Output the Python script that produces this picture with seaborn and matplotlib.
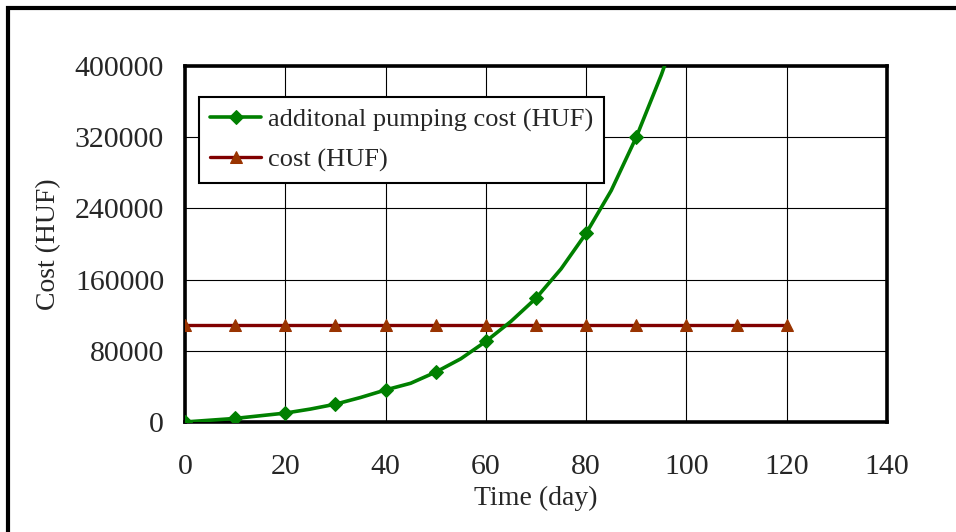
import matplotlib
matplotlib.use("Agg")
import matplotlib.pyplot as plt
from matplotlib.patches import Rectangle
import seaborn as sns
import pandas as pd

# Additional pumping cost over time (read every 5 days, marked every 10)
pump_days = [0, 5, 10, 15, 20, 25, 30, 35, 40, 45, 50, 55, 60, 65, 70,
             75, 80, 85, 90, 95, 100]
pump_cost = [0, 2000, 4000, 7000, 10000, 14500, 20000, 27500, 36000, 43500,
             56000, 71000, 90500, 113000, 139000, 172000, 212000, 260000,
             320000, 390000, 470000]

# Constant cost level
cost_days = [0, 10, 20, 30, 40, 50, 60, 70, 80, 90, 100, 110, 120]
cost_value = [109000] * len(cost_days)

x_ticks = [0, 20, 40, 60, 80, 100, 120, 140]
y_ticks = [0, 80000, 160000, 240000, 320000, 400000]

pump_label = "additonal pumping cost (HUF)"
cost_label = "cost (HUF)"

sns.set_style("white")
plt.rcParams["font.family"] = ["Liberation Serif", "DejaVu Serif"]

df_pump = pd.DataFrame({"day": pump_days, "cost": pump_cost})
df_cost = pd.DataFrame({"day": cost_days, "cost": cost_value})

fig = plt.figure(figsize=(9.56, 5.32), dpi=100)
ax = fig.add_axes([0.1935, 0.2068, 0.7343, 0.6692])

sns.lineplot(data=df_pump, x="day", y="cost", ax=ax, color="#008000",
             linewidth=2.6, marker="D", markersize=7, markevery=2,
             markeredgecolor="#008000", label=pump_label, zorder=4)
sns.lineplot(data=df_cost, x="day", y="cost", ax=ax, color="#800000",
             linewidth=2.4, marker="^", markersize=9,
             markerfacecolor="#993300", markeredgecolor="#993300",
             label=cost_label, zorder=3)

ax.set_xlim(0, 140)
ax.set_ylim(0, 400000)
ax.set_xticks(x_ticks)
ax.set_yticks(y_ticks)
ax.set_xticklabels([str(v) for v in x_ticks])
ax.set_yticklabels([str(v) for v in y_ticks])

ax.grid(True, color="black", linewidth=0.8)
ax.set_axisbelow(True)
for side in ax.spines.values():
    side.set_visible(True)
    side.set_color("black")
    side.set_linewidth(2.6)

ax.tick_params(axis="both", which="major", direction="out", length=6,
               width=0.8, color="black", labelsize=21.5)
ax.tick_params(axis="y", pad=9)
ax.tick_params(axis="x", pad=17)

ax.set_xlabel("Time (day)", fontsize=20, labelpad=4)
ax.set_ylabel("Cost (HUF)", fontsize=20, labelpad=10)

leg = ax.legend(loc="upper left", bbox_to_anchor=(0.02, 0.913),
                borderaxespad=0, fontsize=19, frameon=True, fancybox=False,
                edgecolor="black", handlelength=1.93, handletextpad=0.27,
                labelspacing=0.6, borderpad=0.42)
leg.get_frame().set_linewidth(1.5)
leg.get_frame().set_alpha(1)

# Outer chart frame (open at right and bottom edges of the canvas)
fig.patches.append(Rectangle((8 / 956, -0.2), 1.5, 0.985 + 0.2,
                             transform=fig.transFigure, fill=False,
                             edgecolor="black", linewidth=3, clip_on=False))

fig.savefig("out.png", dpi=100)
